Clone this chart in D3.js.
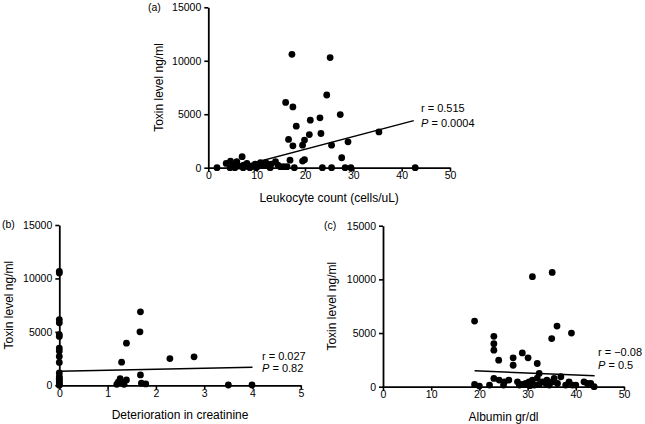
<!DOCTYPE html>
<html>
<head>
<meta charset="utf-8">
<script src="https://cdn.jsdelivr.net/npm/d3@7"></script>
<style>
  html, body { margin: 0; padding: 0; background: #fff; }
  svg { display: block; font-family: "Liberation Sans", Arial, Helvetica, sans-serif; }
</style>
</head>
<body>
<svg id="chart" width="645" height="424"></svg>
<script>
// ---------- DATA ----------
const yTicks = [0, 5000, 10000, 15000];

// (a) Leukocyte count vs toxin
const leukocyte = [1.8, 3.7, 4.6, 5.2, 5.9, 6.3, 7.0, 7.3, 8.0, 8.3, 9.0, 9.7, 10.4, 10.8, 11.4, 11.9, 12.5, 13.0, 13.9, 14.4,
  14.9, 15.6, 16.3, 4.5, 5.5, 7.2, 8.6, 9.9, 12.8, 16.0, 17.3, 17.5, 18.2, 16.6, 17.5, 16.9, 17.8, 19.5, 19.9, 19.5,
  19.9, 20.9, 21.1, 23.1, 23.3, 23.6, 24.5, 25.2, 25.5, 25.5, 27.3, 27.6, 28.3, 28.9, 29.5, 35.3, 42.8];
const toxinA = [0, 400, 620, 250, 560, 150, 1030, 250, 400, 100, 150, 340, 150, 470, 250, 470, 150, 340, 560, 250,
  100, 100, 100, 0, 0, 0, 0, 0, 0, 6100, 10600, 5680, 3880, 2640, 2050, 700, 0, 2110, 2580, 620,
  750, 3100, 4440, 4660, 3200, 0, 6800, 10300, 2110, 0, 4970, 930, 0, 2420, 0, 3350, 0];
const xTicksA = [0, 10, 20, 30, 40, 50];
const fitAx = [8.3, 42.5];
const fitAy = [330, 4400];

// (b) Deterioration in creatinine vs toxin
const creatinine = [0, 0, 0, 0, 0, 0, 0, 0, 0, 0, 0, 0, 0, 0, 0, 0, 0, 0,
  1.19, 1.26, 1.29, 1.34, 1.39, 1.39, 1.68, 1.67, 1.68, 1.70, 1.79, 2.29, 2.79, 3.5, 3.99, 1.22, 1.30];
const toxinB = [10650, 10500, 6150, 5850, 4730, 4570, 3480, 3220, 2700, 2140, 1150, 820, 520, 250, 0, 100, 400, 650,
  90, 620, 2160, 90, 500, 3940, 6875, 5000, 970, 190, 125, 2500, 2660, 30, 30, 300, 200];
const xTicksB = [0, 1, 2, 3, 4, 5];
const fitBx = [0, 4];
const fitBy = [1310, 1690];

// (c) Albumin vs toxin
const albumin = [19.0, 19.0, 20.0, 22.1, 23.0, 23.0, 23.0, 24.0, 23.0, 24.1, 25.0, 25.2, 26.1, 27.0, 27.0, 27.9, 28.3, 28.9,
  30.1, 31.0, 32.0, 35.1, 36.1, 35.0, 39.1, 32.4, 36.9, 28.9, 29.6, 30.3, 31.0, 31.4, 32.4, 33.1, 33.8, 34.5, 35.2, 35.5,
  36.2, 37.9, 38.6, 39.3, 40.0, 41.7, 42.4, 43.1, 43.8, 32.0, 30.5, 34.0];
const toxinC = [6110, 215, 60, 150, 4690, 4010, 3400, 2470, 770, 620, 150, 450, 620, 2690, 2000, 450, 150, 3150,
  2690, 10250, 2160, 10650, 5650, 4480, 5000, 1230, 925, 220, 300, 450, 620, 150, 220, 450, 300, 150, 450, 770,
  300, 150, 450, 150, 150, 450, 300, 300, 0, 800, 100, 600];
const xTicksC = [0, 10, 20, 30, 40, 50];
const fitCx = [19.0, 43.9];
const fitCy = [1480, 1020];

// ---------- DRAW ----------
const svg = d3.select("#chart");

function panel(cfg) {
  const x = d3.scaleLinear().domain([cfg.xTicks[0], cfg.xTicks[cfg.xTicks.length - 1]]).range([cfg.left, cfg.right]);
  const y = d3.scaleLinear().domain([0, 15000]).range([cfg.bottom, cfg.top]);
  const g = svg.append("g");

  const xa = g.append("g").attr("transform", `translate(0,${cfg.bottom})`)
    .call(d3.axisBottom(x).tickValues(cfg.xTicks).tickSize(4).tickSizeOuter(0).tickPadding(0).tickFormat(d3.format("d")));
  const ya = g.append("g").attr("transform", `translate(${cfg.left},0)`)
    .call(d3.axisLeft(y).tickValues(yTicks).tickSize(4).tickSizeOuter(0).tickPadding(3).tickFormat(d3.format("d")));
  [xa, ya].forEach(a => {
    a.selectAll("path.domain").attr("stroke", "#000").attr("stroke-width", 1.8);
    a.selectAll(".tick line").attr("stroke", "#000").attr("stroke-width", 1.6);
    a.selectAll(".tick text").attr("fill", "#000").style("font-size", "10.5px")
      .style("font-family", "'Liberation Sans', Arial, sans-serif");
  });

  // panel letter
  g.append("text").attr("x", cfg.letterX).attr("y", cfg.top).attr("dy", "0.32em")
    .style("font-size", "10.5px").text(cfg.letter);

  // axis titles
  g.append("text").attr("x", (cfg.left + cfg.right) / 2).attr("y", cfg.bottom + 34)
    .attr("text-anchor", "middle").style("font-size", "12px").text(cfg.xLabel);
  g.append("text").attr("transform", `translate(${cfg.yLabelX},${(cfg.top + cfg.bottom) / 2}) rotate(-90)`)
    .attr("text-anchor", "middle").style("font-size", "12px").text("Toxin level ng/ml");

  // fit line
  const line = d3.line().x(d => x(d[0])).y(d => y(d[1]));
  g.append("path").datum(d3.zip(cfg.fitX, cfg.fitY)).attr("d", line)
    .attr("fill", "none").attr("stroke", "#000").attr("stroke-width", 1.5);

  // points
  g.append("g").selectAll("circle").data(d3.zip(cfg.xs, cfg.ys)).join("circle")
    .attr("cx", d => x(d[0])).attr("cy", d => y(d[1])).attr("r", 3.4).attr("fill", "#000");

  // stats annotation
  const t1 = g.append("text").attr("x", cfg.annX).attr("y", cfg.annY1).style("font-size", "11px").text(cfg.rText);
  const t2 = g.append("text").attr("x", cfg.annX).attr("y", cfg.annY2).style("font-size", "11px");
  t2.append("tspan").style("font-style", "italic").text("P");
  t2.append("tspan").text(" = " + cfg.pText);
}

panel({ letter: "(a)", letterX: 148, xs: leukocyte, ys: toxinA, xTicks: xTicksA, fitX: fitAx, fitY: fitAy,
  left: 208.3, right: 450, top: 7.3, bottom: 167.7, xLabel: "Leukocyte count (cells/uL)", yLabelX: 163,
  annX: 421, annY1: 112, annY2: 127, rText: "r = 0.515", pText: "0.0004" });
panel({ letter: "(b)", letterX: 2, xs: creatinine, ys: toxinB, xTicks: xTicksB, fitX: fitBx, fitY: fitBy,
  left: 59.3, right: 300.8, top: 225, bottom: 385.3, xLabel: "Deterioration in creatinine", yLabelX: 12.5,
  annX: 262, annY1: 360, annY2: 372, rText: "r = 0.027", pText: "0.82" });
panel({ letter: "(c)", letterX: 324, xs: albumin, ys: toxinC, xTicks: xTicksC, fitX: fitCx, fitY: fitCy,
  left: 383, right: 624, top: 225.7, bottom: 386.7, xLabel: "Albumin gr/dl", yLabelX: 336,
  annX: 598, annY1: 356, annY2: 369, rText: "r = \u22120.08", pText: "0.5" });
</script>
</body>
</html>
